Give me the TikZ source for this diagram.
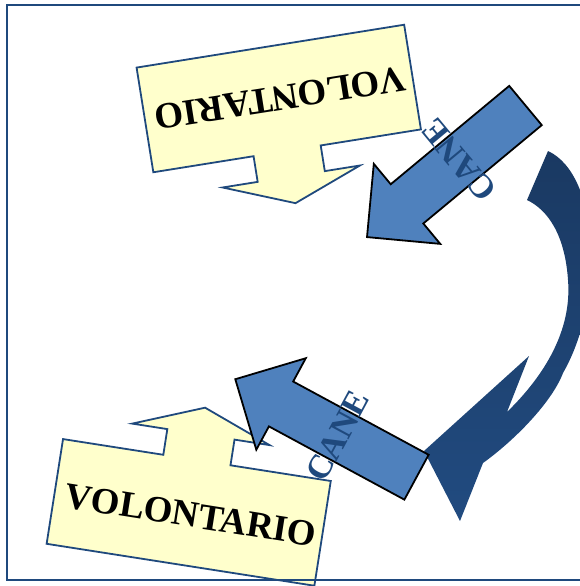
\documentclass[tikz,border=0pt]{standalone}
\usepackage{fontspec}
\setmainfont{Liberation Serif}
\definecolor{framec}{RGB}{31,73,125}
\definecolor{callfill}{RGB}{255,255,204}
\definecolor{callline}{RGB}{31,73,125}
\definecolor{arrfill}{RGB}{79,129,189}
\definecolor{canec}{RGB}{31,73,125}
\definecolor{curvetop}{RGB}{26,57,98}
\definecolor{curvebot}{RGB}{33,75,128}
\tikzset{
  callout/.style={fill=callfill, draw=callline, line width=1.8pt, line join=miter},
  blockarrow/.style={fill=arrfill, draw=black, line width=1.8pt, line join=miter},
  voltext/.style={font=\fontsize{37}{40}\selectfont\bfseries, text=black, inner sep=0pt},
  canetext/.style={font=\fontsize{34}{38}\selectfont\bfseries, text=canec, inner sep=0pt},
}
\newcommand{\calloutpath}{(-135.5,-53) -- (-34,-53) -- (-34,-79) -- (-69.5,-79) -- (0,-106) -- (69.5,-79) -- (34,-79) -- (34,-53) -- (135.5,-53) -- (135.5,53) -- (-135.5,53) -- cycle}
\newcommand{\blockarrowpath}{(0,25.5) -- (154,25.5) -- (154,52) -- (206,0) -- (154,-52) -- (154,-25.5) -- (0,-25.5) -- cycle}
\begin{document}
\begin{tikzpicture}[x=1pt,y=-1pt]
\useasboundingbox (0,0) rectangle (580,586);
\clip (0,0) rectangle (580,586);
% callouts
\begin{scope}[shift={(278.75,98.5)}, rotate=-170.9]
  \path[callout] \calloutpath;
\end{scope}
\node[voltext, rotate=-171] (voltop) at (280,98) {VOLONTARIO};
\begin{scope}[shift={(188.7,512.4)}, rotate=-8.9]
  \path[callout] \calloutpath;
\end{scope}
\node[voltext, rotate=-9] (volbot) at (191,515) {VOLONTARIO};
% curved arrow
\shade[top color=curvetop, bottom color=curvebot]
  (548,151) .. controls (600,175) and (605,300) .. (563,373)
  .. controls (552,402) and (515,440) .. (483,463)
  -- (460,521) -- (424,451) -- (529,356) -- (507,412)
  .. controls (545,375) and (572,330) .. (568,280)
  .. controls (565,235) and (548,210) .. (527,200) -- cycle;
% block arrows
\begin{scope}[shift={(525.5,105.5)}, rotate=-140.3]
  \path[blockarrow] \blockarrowpath;
\end{scope}
\begin{scope}[shift={(416.5,477.2)}, rotate=151.6]
  \path[blockarrow] \blockarrowpath;
\end{scope}
% labels
\node[canetext, rotate=129.7] (canetop) at (459,160) {CANE};
\node[canetext, rotate=61.7] (canebot) at (338,436) {CANE};
% frame
\draw[framec, line width=2pt] (7,5) rectangle (600,580);
\end{tikzpicture}
\end{document}
